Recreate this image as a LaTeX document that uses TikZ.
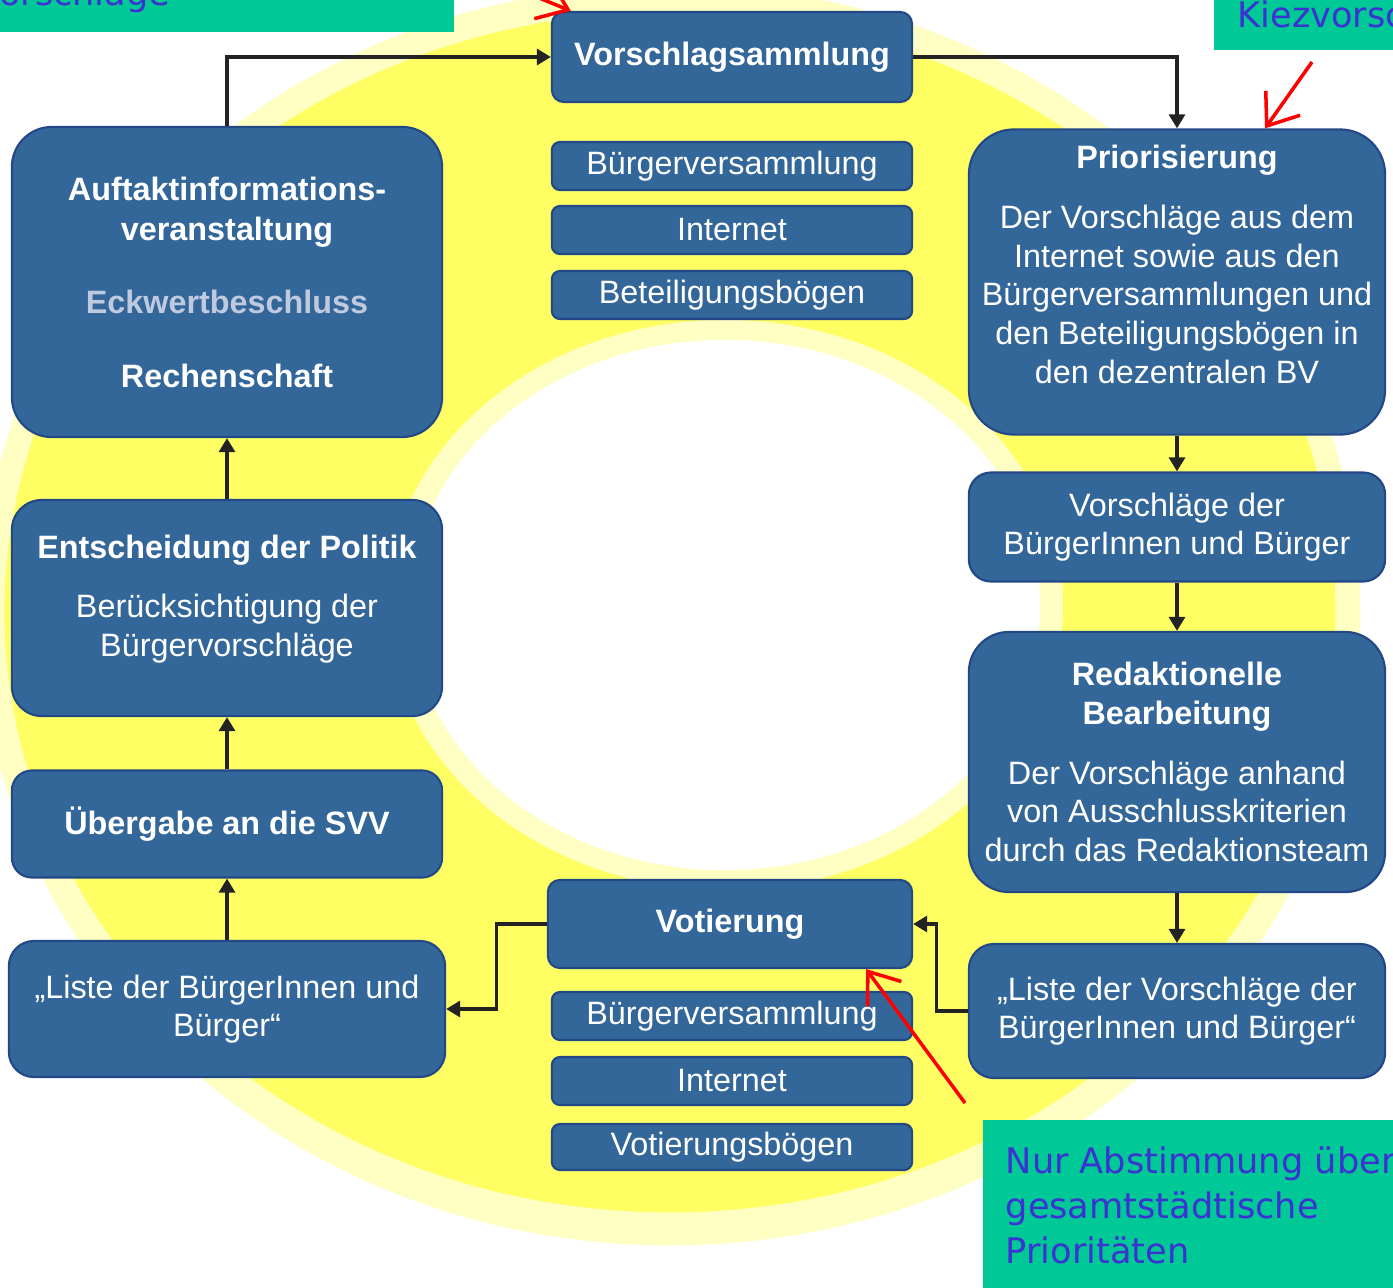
\documentclass[tikz,border=0pt]{standalone}
\usepackage{fontspec}
\setmainfont{Liberation Sans}
\newfontfamily\notefont{DejaVu Sans}
\usetikzlibrary{arrows.meta}

\definecolor{boxblue}{RGB}{51,102,153}
\definecolor{boxedge}{RGB}{35,72,135}
\definecolor{paletext}{RGB}{192,202,222}
\definecolor{ringyellow}{RGB}{255,255,100}
\definecolor{ringpale}{RGB}{255,255,195}
\definecolor{notegreen}{RGB}{0,200,150}
\definecolor{noteblue}{RGB}{60,50,210}
\definecolor{flowgray}{RGB}{35,35,35}

\begin{document}
\begin{tikzpicture}[x=0.01cm,y=-0.01cm,
  stage/.style={draw=boxedge, line width=0.6pt, fill=boxblue, text=white, align=center,
    inner sep=0pt, font=\fontsize{9.2pt}{11pt}\selectfont},
  channel/.style={stage, minimum width=3.6cm, minimum height=0.48cm, rounded corners=0.08cm},
  flow/.style={draw=flowgray, line width=0.9pt, -{Triangle[length=0.14cm,width=0.16cm]}},
  pointer/.style={draw=red, line width=1pt, -{Straight Barb[length=0.28cm,width=0.42cm]}},
  notetext/.style={font=\notefont\fontsize{10pt}{12.8pt}\selectfont, text=noteblue,
    inner sep=0pt, align=left}]

%%% HELP LINES - uncomment to design/extend
% \draw[step=100,gray,very thin] (0,0) grid (1393,1287);

\useasboundingbox (0,0) rectangle (1393,1287);
\clip (0,0) rectangle (1393,1287);

% YELLOW RING
\fill[ringpale, even odd rule] (670,615) ellipse [x radius=6.9cm, y radius=6.3cm]
  (725,605) ellipse [x radius=3.15cm, y radius=2.65cm];
\fill[ringyellow, even odd rule] (670,612) ellipse [x radius=6.65cm, y radius=6.0cm]
  (725,605) ellipse [x radius=3.38cm, y radius=2.85cm];

% NOTES
\fill[notegreen] (-10,-10) rectangle (454,32);
\node[notetext, anchor=base west] (noteleft) at (-23,5) {Vorschläge};
\fill[notegreen] (1214,-10) rectangle (1400,50);
\node[notetext, anchor=base west] (noteright) at (1237,27) {Kiezvorschläge};
\fill[notegreen] (983,1120) rectangle (1400,1300);
\node[notetext, anchor=north west] (notebottom) at (1005,1146) {
	Nur Abstimmung über\\
	gesamtstädtische\\
	Prioritäten
};

% VORSCHLAGSAMMLUNG
\node[stage, minimum width=3.6cm, minimum height=0.9cm, rounded corners=0.12cm] (vs) at (732,57)
  {\textbf{Vorschlagsammlung}};
\node[channel] (vsbv) at (732,166) {Bürgerversammlung};
\node[channel] (vsnet) at (732,230) {Internet};
\node[channel] (vsbb) at (732,295) {Beteiligungsbögen};

% AUFTAKT
\node[stage, minimum width=4.3cm, minimum height=3.1cm, rounded corners=0.4cm] (auft) at (227,282) {
	\textbf{Auftaktinformations-}\\[0.02cm]
	\textbf{veranstaltung}\\[0.34cm]
	\textbf{\color{paletext}Eckwertbeschluss}\\[0.35cm]
	\textbf{Rechenschaft}
};

% ENTSCHEIDUNG
\node[stage, minimum width=4.3cm, minimum height=2.16cm, rounded corners=0.3cm] (pol) at (227,608) {
	\textbf{Entscheidung der Politik}\\[0.21cm]
	Berücksichtigung der\\
	Bürgervorschläge\\[-0.14cm]
	\mbox{}
};

% UEBERGABE
\node[stage, minimum width=4.3cm, minimum height=1.07cm, rounded corners=0.2cm] (svv) at (227,824)
  {\textbf{Übergabe an die SVV}};

% LISTE LINKS
\node[stage, minimum width=4.36cm, minimum height=1.36cm, rounded corners=0.25cm] (lbu) at (227,1009) {
	„Liste der BürgerInnen und\\
	Bürger“
};

% VOTIERUNG
\node[stage, minimum width=3.64cm, minimum height=0.88cm, rounded corners=0.12cm] (vot) at (730,924)
  {\textbf{Votierung}};
\node[channel] (votbv) at (732,1016) {Bürgerversammlung};
\node[channel] (votnet) at (732,1081) {Internet};
\node[channel, minimum height=0.46cm] (votvb) at (732,1147) {Votierungsbögen};

% PRIORISIERUNG
\node[stage, minimum width=4.16cm, minimum height=3.05cm, rounded corners=0.45cm] (prio) at (1177,282) {
	\textbf{Priorisierung}\\[0.21cm]
	Der Vorschläge aus dem\\
	Internet sowie aus den\\
	Bürgerversammlungen und\\
	den Beteiligungsbögen in\\
	den dezentralen BV\\[-0.03cm]
	\mbox{}
};

% VORSCHLAEGE DER BUERGER
\node[stage, minimum width=4.16cm, minimum height=1.09cm, rounded corners=0.22cm] (vdb) at (1177,527) {
	Vorschläge der\\
	BürgerInnen und Bürger
};

% REDAKTION
\node[stage, minimum width=4.16cm, minimum height=2.6cm, rounded corners=0.4cm] (redak) at (1177,762) {
	\textbf{Redaktionelle}\\
	\textbf{Bearbeitung}\\[0.21cm]
	Der Vorschläge anhand\\
	von Ausschlusskriterien\\
	durch das Redaktionsteam
};

% LISTE RECHTS
\node[stage, minimum width=4.16cm, minimum height=1.34cm, rounded corners=0.25cm] (lvb) at (1177,1011) {
	„Liste der Vorschläge der\\
	BürgerInnen und Bürger“
};

%% Flow of the cycle
\draw[flow] (auft.north) |- (vs.west);
\draw[flow] (vs.east) -| (prio.north);
\draw[flow] (prio.south) -- (vdb.north);
\draw[flow] (vdb.south) -- (redak.north);
\draw[flow] (redak.south) -- (lvb.north);
\draw[flow] (lvb.west) -- ++(-31,0) |- (vot.east);
\draw[flow] (vot.west) -- ++(-50,0) |- (lbu.east);
\draw[flow] (lbu.north) -- (svv.south);
\draw[flow] (svv.north) -- (pol.south);
\draw[flow] (pol.north) -- (auft.south);

%% Red pointers
\coordinate (fromleft) at (478,-27);
\coordinate (fromright) at (1312,62);
\coordinate (frombottom) at (965,1103);
\draw[pointer] (fromleft) -- ([xshift=0.2cm]vs.north west);
\draw[pointer] (fromright) -- ([xshift=0.88cm]prio.north);
\draw[pointer] (frombottom) -- ([xshift=1.36cm]vot.south);
\end{tikzpicture}
\end{document}
